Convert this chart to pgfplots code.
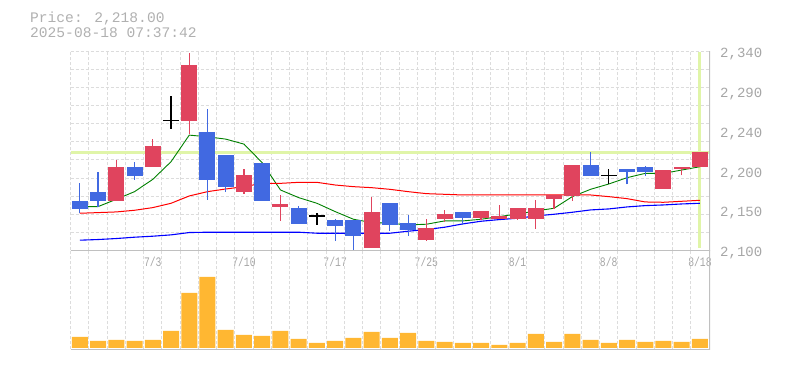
\documentclass[border=0pt]{standalone}
\usepackage{fontspec}
\usepackage{pgfplots}
\usepackage{pgfplotstable}
\pgfplotsset{compat=1.18}
\newfontfamily\monofont{Liberation Mono}
\newfontfamily\xfont[FakeStretch=0.75]{Liberation Mono}
\definecolor{gridc}{HTML}{DCDCDC}
\definecolor{axisc}{HTML}{C0C0C0}
\definecolor{labc}{HTML}{A6A6A6}
\definecolor{titlec}{HTML}{B0B0B0}
\definecolor{upc}{HTML}{E0445E}
\definecolor{downc}{HTML}{4169E1}
\definecolor{volc}{HTML}{FFB732}
\definecolor{hlc}{HTML}{E0F5A8}
\definecolor{magreen}{HTML}{008000}
\definecolor{mared}{HTML}{FF0000}
\definecolor{mablue}{HTML}{0000FF}

\pgfplotstableread{
x o h l c
2 2159.6 2208.8 2159.6 2200.4
4 2200.8 2234.0 2200.8 2225.6
6 2256.0 2337.6 2239.6 2322.8
9 2170.8 2198.0 2168.0 2190.8
11 2152.8 2166.8 2135.6 2155.6
16 2103.6 2164.8 2103.6 2146.4
19 2112.8 2138.0 2112.0 2127.2
20 2138.0 2148.8 2134.8 2144.0
22 2139.6 2147.6 2137.0 2147.6
23 2138.0 2155.2 2138.0 2141.6
24 2138.0 2151.2 2136.8 2151.2
25 2138.0 2160.8 2126.4 2151.2
26 2162.0 2166.8 2150.4 2166.8
27 2166.0 2202.8 2160.0 2202.8
32 2174.4 2196.8 2174.4 2196.8
33 2198.0 2200.4 2190.4 2200.4
34 2200.8 2218.0 2200.8 2218.0
}\upT

\pgfplotstableread{
x o h l c
0 2159.6 2180.8 2144.8 2150.4
1 2170.4 2194.4 2152.8 2160.0
3 2200.4 2206.4 2185.2 2190.0
7 2242.4 2270.0 2160.8 2185.2
8 2214.8 2214.8 2170.8 2176.8
10 2205.2 2205.2 2160.0 2160.0
12 2151.2 2154.0 2132.4 2132.4
14 2136.8 2138.0 2112.0 2130.0
15 2136.8 2136.8 2100.0 2118.0
17 2157.2 2157.2 2124.0 2131.2
18 2133.2 2142.8 2118.0 2125.2
21 2146.4 2146.4 2130.4 2139.6
28 2202.8 2218.4 2190.0 2190.0
30 2198.0 2198.0 2179.6 2194.4
31 2200.4 2201.6 2190.0 2194.0
}\downT

\pgfplotstableread{
x o h l c
5 2256.4 2286.4 2246.4 2256.4
13 2141.6 2144.8 2131.2 2141.6
29 2190.4 2198.0 2179.6 2190.4
}\dojiT

\pgfplotstableread{
x g r b
0 2152.8 2144.8 2112.4
1 2152.8 2145.6 2113.2
2 2161.6 2146.4 2114.4
3 2170.8 2148.4 2116.0
4 2185.6 2151.6 2117.2
5 2206.8 2156.8 2118.8
6 2238.8 2165.6 2121.6
7 2236.8 2170.8 2122.0
8 2234.0 2174.0 2122.0
9 2228.0 2176.8 2122.0
10 2205.6 2180.8 2122.0
11 2172.8 2180.8 2122.0
12 2163.6 2182.0 2122.0
13 2156.8 2182.0 2120.8
14 2146.8 2178.8 2120.8
15 2137.6 2176.8 2120.8
16 2133.6 2175.6 2120.8
17 2132.8 2173.6 2120.8
18 2130.8 2170.8 2123.2
19 2131.6 2168.4 2125.2
20 2135.6 2167.6 2128.0
21 2135.6 2166.8 2132.0
22 2137.6 2166.8 2135.2
23 2140.8 2166.8 2137.2
24 2144.0 2166.8 2138.8
25 2147.6 2166.8 2141.6
26 2150.8 2166.8 2143.6
27 2164.8 2166.8 2146.0
28 2173.6 2166.8 2148.8
29 2180.0 2164.8 2150.0
30 2187.6 2162.4 2152.4
31 2192.8 2158.4 2154.0
32 2192.8 2158.0 2154.8
33 2196.8 2159.2 2156.0
34 2200.8 2160.4 2156.8
}\maT

\pgfplotstableread{
x v
0 11
1 7
2 8
3 7
4 8
5 17
6 55
7 71
8 18
9 13
10 12
11 17
12 9
13 5
14 7
15 10
16 16
17 10
18 15
19 7
20 6
21 5
22 5
23 3
24 5
25 14
26 6
27 14
28 8
29 5
30 8
31 6
32 7
33 6
34 9
}\volT

\begin{document}
\begin{tikzpicture}
\path[use as bounding box] (0,0) rectangle (785pt,370pt);
\node[anchor=base west, inner sep=0pt, font=\monofont\fontsize{14.6}{14.6}\selectfont, text=titlec] at (30pt,347.7pt) {Price: 2,218.00};
\node[anchor=base west, inner sep=0pt, font=\monofont\fontsize{14.6}{14.6}\selectfont, text=titlec] at (30pt,332.7pt) {2025-08-18 07:37:42};

\begin{axis}[
  at={(70.7pt,119.5pt)}, anchor=south west, scale only axis,
  width=639.3pt, height=199.5pt,
  xmin=-0.5, xmax=34.55, ymin=2100, ymax=2340,
  axis line style={draw=none},
  tick style={draw=none}, major tick length=0pt, tick align=inside,
  xtick={-0.5,0.5,...,34.5}, xticklabels={},
  ytick={2100,2121.818,2143.636,2165.455,2187.273,2209.091,2230.909,2252.727,2274.545,2296.364,2318.182,2340},
  yticklabels={},
  yticklabel pos=right,
  grid=major,
  major grid style={dash pattern=on 3pt off 2pt, line width=0.9pt, draw=gridc},
  extra x ticks={4,9,14,19,24,29,34},
  extra x tick labels={7/3,7/10,7/17,7/25,8/1,8/8,8/18},
  extra x tick style={grid=none, xticklabel style={anchor=base, inner sep=0pt, yshift=-16.2pt, font=\xfont\fontsize{13}{13}\selectfont, text=labc}},
  extra y ticks={2100,2148,2196,2244,2292,2340},
  extra y tick labels={{2,100},{2,150},{2,200},{2,240},{2,290},{2,340}},
  extra y tick style={grid=none, yticklabel style={anchor=base west, inner sep=0pt, xshift=10pt, yshift=-6.3pt, font=\monofont\fontsize{14}{14}\selectfont, text=labc}},
]
% highlight lines
\addplot[hlc, line width=3pt, forget plot] coordinates {(-0.5,2218) (34.55,2218)};
\addplot[hlc, line width=3pt, forget plot] coordinates {(34,2103) (34,2339)};
% moving averages
\addplot[magreen, line width=0.9pt] table[x=x,y=g]{\maT};
\addplot[mared, line width=1pt] table[x=x,y=r]{\maT};
\addplot[mablue, line width=1.1pt] table[x=x,y=b]{\maT};
% wicks
\addplot[draw=none, forget plot, error bars/.cd, y dir=plus, y explicit, error mark=none,
  error bar style={draw=upc, line width=1.2pt}]
  table[x=x, y=l, y error expr=\thisrow{h}-\thisrow{l}]{\upT};
\addplot[draw=none, forget plot, error bars/.cd, y dir=plus, y explicit, error mark=none,
  error bar style={draw=downc, line width=1.2pt}]
  table[x=x, y=l, y error expr=\thisrow{h}-\thisrow{l}]{\downT};
\addplot[draw=none, forget plot, error bars/.cd, y dir=plus, y explicit, error mark=none,
  error bar style={draw=black, line width=1.3pt}]
  table[x=x, y=l, y error expr=\thisrow{h}-\thisrow{l}]{\dojiT};
% bodies
\addplot[draw=none, forget plot, error bars/.cd, y dir=plus, y explicit, error mark=none,
  error bar style={draw=upc, line width=16pt}]
  table[x=x, y=o, y error expr=\thisrow{c}-\thisrow{o}]{\upT};
\addplot[draw=none, forget plot, error bars/.cd, y dir=plus, y explicit, error mark=none,
  error bar style={draw=downc, line width=16pt}]
  table[x=x, y=c, y error expr=\thisrow{o}-\thisrow{c}]{\downT};
\addplot[only marks, mark=-, mark size=8pt, mark options={line width=1.5pt, draw=black}, forget plot]
  table[x=x, y=o]{\dojiT};
\draw[axisc, line width=1.2pt] (rel axis cs:0,0) -- (rel axis cs:1,0) -- (rel axis cs:1,1);
\end{axis}

\begin{axis}[
  at={(70.7pt,20.7pt)}, anchor=south west, scale only axis,
  width=639.3pt, height=98.8pt,
  xmin=-0.5, xmax=34.55, ymin=-1.3, ymax=97.5,
  axis line style={draw=none},
  tick style={draw=none}, major tick length=0pt,
  xtick={-0.5,0.5,...,34.5}, xticklabels={}, ytick=\empty,
  xmajorgrids,
  major grid style={dash pattern=on 3pt off 2pt, line width=0.9pt, draw=gridc},
]
\addplot[ybar, bar width=16pt, fill=volc, draw=none] table[x=x,y=v]{\volT};
\draw[axisc, line width=1.2pt] (rel axis cs:0,0) -- (rel axis cs:1,0) -- (rel axis cs:1,1.02);
\end{axis}
\end{tikzpicture}
\end{document}
